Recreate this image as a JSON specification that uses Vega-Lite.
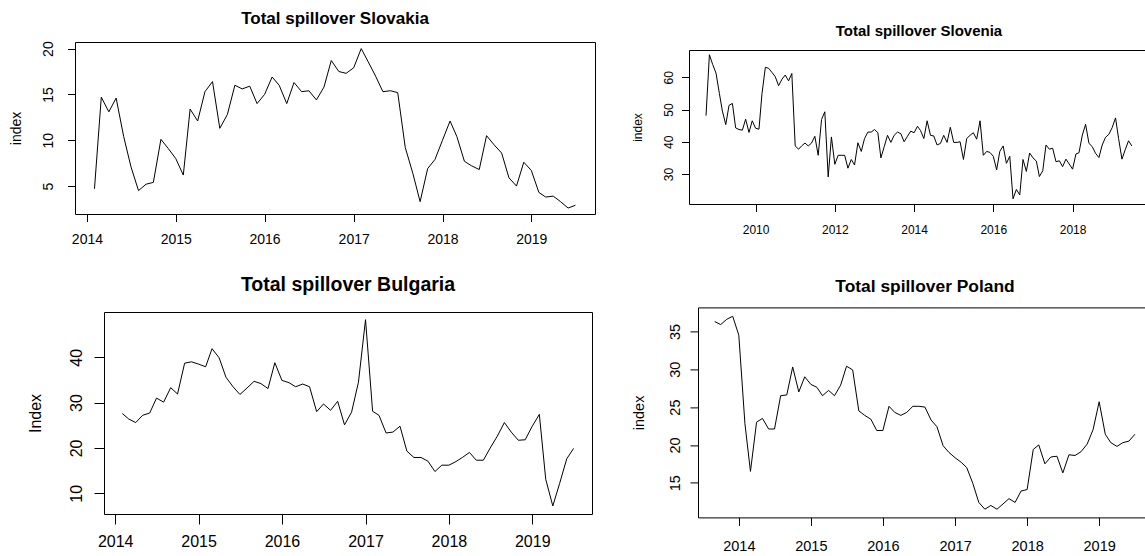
{
  "$schema": "https://vega.github.io/schema/vega-lite/v6.json",
  "autosize": {"type": "none"},
  "padding": {"left": 6, "top": 7, "right": 1139, "bottom": 549},
  "background": "white",
  "config": {
    "font": "Liberation Sans",
    "view": {"stroke": "black", "strokeWidth": 1},
    "axis": {"domain": false, "grid": false, "tickColor": "black", "tickWidth": 1, "labelColor": "black", "titleColor": "black", "titleFontWeight": "normal", "labelFlush": false, "labelOverlap": false},
    "title": {"fontWeight": "bold", "color": "black", "anchor": "middle", "frame": "group", "baseline": "alphabetic"},
    "line": {"color": "black", "strokeWidth": 1}
  },
  "datasets": {
    "slovakia": [
      {"date": "2014-02", "index": 4.7}, {"date": "2014-03", "index": 14.7}, {"date": "2014-04", "index": 13.1}, {"date": "2014-05", "index": 14.6},
      {"date": "2014-06", "index": 10.4}, {"date": "2014-07", "index": 7.1}, {"date": "2014-08", "index": 4.5}, {"date": "2014-09", "index": 5.2},
      {"date": "2014-10", "index": 5.4}, {"date": "2014-11", "index": 10.1}, {"date": "2014-12", "index": 9.1}, {"date": "2015-01", "index": 8.0},
      {"date": "2015-02", "index": 6.2}, {"date": "2015-03", "index": 13.4}, {"date": "2015-04", "index": 12.1}, {"date": "2015-05", "index": 15.3},
      {"date": "2015-06", "index": 16.4}, {"date": "2015-07", "index": 11.3}, {"date": "2015-08", "index": 12.8}, {"date": "2015-09", "index": 16.0},
      {"date": "2015-10", "index": 15.6}, {"date": "2015-11", "index": 15.9}, {"date": "2015-12", "index": 14.0}, {"date": "2016-01", "index": 15.0},
      {"date": "2016-02", "index": 16.9}, {"date": "2016-03", "index": 16.0}, {"date": "2016-04", "index": 14.0}, {"date": "2016-05", "index": 16.3},
      {"date": "2016-06", "index": 15.3}, {"date": "2016-07", "index": 15.4}, {"date": "2016-08", "index": 14.4}, {"date": "2016-09", "index": 15.8},
      {"date": "2016-10", "index": 18.7}, {"date": "2016-11", "index": 17.5}, {"date": "2016-12", "index": 17.3}, {"date": "2017-01", "index": 17.9},
      {"date": "2017-02", "index": 20.0}, {"date": "2017-03", "index": 18.6}, {"date": "2017-04", "index": 17.0}, {"date": "2017-05", "index": 15.3},
      {"date": "2017-06", "index": 15.4}, {"date": "2017-07", "index": 15.2}, {"date": "2017-08", "index": 9.2}, {"date": "2017-09", "index": 6.4},
      {"date": "2017-10", "index": 3.3}, {"date": "2017-11", "index": 6.9}, {"date": "2017-12", "index": 7.9}, {"date": "2018-01", "index": 10.0},
      {"date": "2018-02", "index": 12.1}, {"date": "2018-03", "index": 10.4}, {"date": "2018-04", "index": 7.7}, {"date": "2018-05", "index": 7.2},
      {"date": "2018-06", "index": 6.8}, {"date": "2018-07", "index": 10.5}, {"date": "2018-08", "index": 9.5}, {"date": "2018-09", "index": 8.6},
      {"date": "2018-10", "index": 5.9}, {"date": "2018-11", "index": 5.0}, {"date": "2018-12", "index": 7.6}, {"date": "2019-01", "index": 6.7},
      {"date": "2019-02", "index": 4.3}, {"date": "2019-03", "index": 3.8}, {"date": "2019-04", "index": 3.9}, {"date": "2019-05", "index": 3.3},
      {"date": "2019-06", "index": 2.6}, {"date": "2019-07", "index": 2.9}
    ],
    "slovenia": [
      {"date": "2008-10", "index": 48.1}, {"date": "2008-11", "index": 67.0}, {"date": "2008-12", "index": 64.0}, {"date": "2009-01", "index": 61.3},
      {"date": "2009-02", "index": 55.0}, {"date": "2009-03", "index": 49.5}, {"date": "2009-04", "index": 45.3}, {"date": "2009-05", "index": 51.3},
      {"date": "2009-06", "index": 51.9}, {"date": "2009-07", "index": 44.3}, {"date": "2009-08", "index": 43.8}, {"date": "2009-09", "index": 43.6},
      {"date": "2009-10", "index": 47.0}, {"date": "2009-11", "index": 42.9}, {"date": "2009-12", "index": 46.5}, {"date": "2010-01", "index": 44.2},
      {"date": "2010-02", "index": 43.9}, {"date": "2010-03", "index": 55.0}, {"date": "2010-04", "index": 63.1}, {"date": "2010-05", "index": 62.8},
      {"date": "2010-06", "index": 61.5}, {"date": "2010-07", "index": 60.2}, {"date": "2010-08", "index": 57.4}, {"date": "2010-09", "index": 59.4},
      {"date": "2010-10", "index": 60.7}, {"date": "2010-11", "index": 58.9}, {"date": "2010-12", "index": 61.2}, {"date": "2011-01", "index": 38.7},
      {"date": "2011-02", "index": 37.7}, {"date": "2011-03", "index": 38.7}, {"date": "2011-04", "index": 39.6}, {"date": "2011-05", "index": 38.7},
      {"date": "2011-06", "index": 39.6}, {"date": "2011-07", "index": 41.7}, {"date": "2011-08", "index": 35.8}, {"date": "2011-09", "index": 46.9},
      {"date": "2011-10", "index": 49.3}, {"date": "2011-11", "index": 29.1}, {"date": "2011-12", "index": 41.5}, {"date": "2012-01", "index": 33.0},
      {"date": "2012-02", "index": 35.8}, {"date": "2012-03", "index": 35.8}, {"date": "2012-04", "index": 35.8}, {"date": "2012-05", "index": 31.8},
      {"date": "2012-06", "index": 34.5}, {"date": "2012-07", "index": 32.8}, {"date": "2012-08", "index": 39.7}, {"date": "2012-09", "index": 37.0},
      {"date": "2012-10", "index": 41.0}, {"date": "2012-11", "index": 43.0}, {"date": "2012-12", "index": 43.0}, {"date": "2013-01", "index": 43.8},
      {"date": "2013-02", "index": 42.8}, {"date": "2013-03", "index": 35.0}, {"date": "2013-04", "index": 38.5}, {"date": "2013-05", "index": 42.0},
      {"date": "2013-06", "index": 39.8}, {"date": "2013-07", "index": 42.0}, {"date": "2013-08", "index": 43.0}, {"date": "2013-09", "index": 42.5},
      {"date": "2013-10", "index": 40.0}, {"date": "2013-11", "index": 41.7}, {"date": "2013-12", "index": 43.3}, {"date": "2014-01", "index": 42.8},
      {"date": "2014-02", "index": 44.8}, {"date": "2014-03", "index": 43.5}, {"date": "2014-04", "index": 41.0}, {"date": "2014-05", "index": 46.5},
      {"date": "2014-06", "index": 42.0}, {"date": "2014-07", "index": 41.8}, {"date": "2014-08", "index": 39.0}, {"date": "2014-09", "index": 39.5},
      {"date": "2014-10", "index": 42.0}, {"date": "2014-11", "index": 39.8}, {"date": "2014-12", "index": 44.5}, {"date": "2015-01", "index": 39.8},
      {"date": "2015-02", "index": 39.8}, {"date": "2015-03", "index": 40.0}, {"date": "2015-04", "index": 34.5}, {"date": "2015-05", "index": 41.0},
      {"date": "2015-06", "index": 42.0}, {"date": "2015-07", "index": 42.8}, {"date": "2015-08", "index": 40.8}, {"date": "2015-09", "index": 46.5},
      {"date": "2015-10", "index": 35.8}, {"date": "2015-11", "index": 37.0}, {"date": "2015-12", "index": 36.7}, {"date": "2016-01", "index": 35.5},
      {"date": "2016-02", "index": 31.3}, {"date": "2016-03", "index": 37.0}, {"date": "2016-04", "index": 38.7}, {"date": "2016-05", "index": 33.3},
      {"date": "2016-06", "index": 35.5}, {"date": "2016-07", "index": 22.3}, {"date": "2016-08", "index": 25.2}, {"date": "2016-09", "index": 23.5},
      {"date": "2016-10", "index": 34.5}, {"date": "2016-11", "index": 30.8}, {"date": "2016-12", "index": 36.5}, {"date": "2017-01", "index": 35.0},
      {"date": "2017-02", "index": 34.0}, {"date": "2017-03", "index": 29.2}, {"date": "2017-04", "index": 31.0}, {"date": "2017-05", "index": 39.0},
      {"date": "2017-06", "index": 37.7}, {"date": "2017-07", "index": 38.0}, {"date": "2017-08", "index": 33.8}, {"date": "2017-09", "index": 34.1},
      {"date": "2017-10", "index": 32.3}, {"date": "2017-11", "index": 34.6}, {"date": "2017-12", "index": 33.1}, {"date": "2018-01", "index": 31.5},
      {"date": "2018-02", "index": 36.2}, {"date": "2018-03", "index": 36.6}, {"date": "2018-04", "index": 42.1}, {"date": "2018-05", "index": 45.4},
      {"date": "2018-06", "index": 39.5}, {"date": "2018-07", "index": 38.5}, {"date": "2018-08", "index": 36.4}, {"date": "2018-09", "index": 35.1},
      {"date": "2018-10", "index": 39.0}, {"date": "2018-11", "index": 41.4}, {"date": "2018-12", "index": 42.3}, {"date": "2019-01", "index": 44.4},
      {"date": "2019-02", "index": 47.4}, {"date": "2019-03", "index": 41.0}, {"date": "2019-04", "index": 34.6}, {"date": "2019-05", "index": 37.5},
      {"date": "2019-06", "index": 40.3}, {"date": "2019-07", "index": 38.7}
    ],
    "bulgaria": [
      {"date": "2014-02", "index": 27.6}, {"date": "2014-03", "index": 26.4}, {"date": "2014-04", "index": 25.6}, {"date": "2014-05", "index": 27.2},
      {"date": "2014-06", "index": 27.7}, {"date": "2014-07", "index": 31.0}, {"date": "2014-08", "index": 30.1}, {"date": "2014-09", "index": 33.3},
      {"date": "2014-10", "index": 31.9}, {"date": "2014-11", "index": 38.7}, {"date": "2014-12", "index": 39.0}, {"date": "2015-01", "index": 38.5},
      {"date": "2015-02", "index": 37.9}, {"date": "2015-03", "index": 41.9}, {"date": "2015-04", "index": 39.9}, {"date": "2015-05", "index": 35.6},
      {"date": "2015-06", "index": 33.5}, {"date": "2015-07", "index": 31.8}, {"date": "2015-08", "index": 33.2}, {"date": "2015-09", "index": 34.7},
      {"date": "2015-10", "index": 34.2}, {"date": "2015-11", "index": 33.1}, {"date": "2015-12", "index": 38.8}, {"date": "2016-01", "index": 34.9},
      {"date": "2016-02", "index": 34.4}, {"date": "2016-03", "index": 33.5}, {"date": "2016-04", "index": 34.1}, {"date": "2016-05", "index": 33.5},
      {"date": "2016-06", "index": 28.0}, {"date": "2016-07", "index": 29.7}, {"date": "2016-08", "index": 28.3}, {"date": "2016-09", "index": 30.3},
      {"date": "2016-10", "index": 25.1}, {"date": "2016-11", "index": 27.9}, {"date": "2016-12", "index": 34.5}, {"date": "2017-01", "index": 48.3},
      {"date": "2017-02", "index": 28.1}, {"date": "2017-03", "index": 27.2}, {"date": "2017-04", "index": 23.3}, {"date": "2017-05", "index": 23.5},
      {"date": "2017-06", "index": 24.8}, {"date": "2017-07", "index": 19.3}, {"date": "2017-08", "index": 17.9}, {"date": "2017-09", "index": 17.9},
      {"date": "2017-10", "index": 17.1}, {"date": "2017-11", "index": 14.8}, {"date": "2017-12", "index": 16.2}, {"date": "2018-01", "index": 16.2},
      {"date": "2018-02", "index": 17.0}, {"date": "2018-03", "index": 17.9}, {"date": "2018-04", "index": 19.0}, {"date": "2018-05", "index": 17.3},
      {"date": "2018-06", "index": 17.3}, {"date": "2018-07", "index": 20.0}, {"date": "2018-08", "index": 22.6}, {"date": "2018-09", "index": 25.6},
      {"date": "2018-10", "index": 23.5}, {"date": "2018-11", "index": 21.7}, {"date": "2018-12", "index": 21.8}, {"date": "2019-01", "index": 24.8},
      {"date": "2019-02", "index": 27.4}, {"date": "2019-03", "index": 13.1}, {"date": "2019-04", "index": 7.2}, {"date": "2019-05", "index": 12.2},
      {"date": "2019-06", "index": 17.6}, {"date": "2019-07", "index": 19.9}
    ],
    "poland": [
      {"date": "2013-09", "index": 36.3}, {"date": "2013-10", "index": 35.9}, {"date": "2013-11", "index": 36.6}, {"date": "2013-12", "index": 37.0},
      {"date": "2014-01", "index": 34.5}, {"date": "2014-02", "index": 22.8}, {"date": "2014-03", "index": 16.5}, {"date": "2014-04", "index": 23.0},
      {"date": "2014-05", "index": 23.5}, {"date": "2014-06", "index": 22.1}, {"date": "2014-07", "index": 22.1}, {"date": "2014-08", "index": 26.5},
      {"date": "2014-09", "index": 26.6}, {"date": "2014-10", "index": 30.3}, {"date": "2014-11", "index": 27.0}, {"date": "2014-12", "index": 29.0},
      {"date": "2015-01", "index": 28.0}, {"date": "2015-02", "index": 27.6}, {"date": "2015-03", "index": 26.5}, {"date": "2015-04", "index": 27.2},
      {"date": "2015-05", "index": 26.5}, {"date": "2015-06", "index": 27.9}, {"date": "2015-07", "index": 30.4}, {"date": "2015-08", "index": 29.9},
      {"date": "2015-09", "index": 24.5}, {"date": "2015-10", "index": 23.9}, {"date": "2015-11", "index": 23.4}, {"date": "2015-12", "index": 21.9},
      {"date": "2016-01", "index": 21.9}, {"date": "2016-02", "index": 25.1}, {"date": "2016-03", "index": 24.3}, {"date": "2016-04", "index": 23.9},
      {"date": "2016-05", "index": 24.3}, {"date": "2016-06", "index": 25.1}, {"date": "2016-07", "index": 25.1}, {"date": "2016-08", "index": 25.0},
      {"date": "2016-09", "index": 23.3}, {"date": "2016-10", "index": 22.4}, {"date": "2016-11", "index": 19.9}, {"date": "2016-12", "index": 19.0},
      {"date": "2017-01", "index": 18.3}, {"date": "2017-02", "index": 17.7}, {"date": "2017-03", "index": 17.0}, {"date": "2017-04", "index": 14.9},
      {"date": "2017-05", "index": 12.4}, {"date": "2017-06", "index": 11.5}, {"date": "2017-07", "index": 12.0}, {"date": "2017-08", "index": 11.5},
      {"date": "2017-09", "index": 12.2}, {"date": "2017-10", "index": 12.9}, {"date": "2017-11", "index": 12.4}, {"date": "2017-12", "index": 13.9},
      {"date": "2018-01", "index": 14.1}, {"date": "2018-02", "index": 19.4}, {"date": "2018-03", "index": 20.0}, {"date": "2018-04", "index": 17.5},
      {"date": "2018-05", "index": 18.4}, {"date": "2018-06", "index": 18.5}, {"date": "2018-07", "index": 16.3}, {"date": "2018-08", "index": 18.7},
      {"date": "2018-09", "index": 18.6}, {"date": "2018-10", "index": 19.1}, {"date": "2018-11", "index": 20.1}, {"date": "2018-12", "index": 22.0},
      {"date": "2019-01", "index": 25.7}, {"date": "2019-02", "index": 21.4}, {"date": "2019-03", "index": 20.3}, {"date": "2019-04", "index": 19.8},
      {"date": "2019-05", "index": 20.3}, {"date": "2019-06", "index": 20.5}, {"date": "2019-07", "index": 21.4}
    ]
  },
  "hconcat": [
    {
      "spacing": 27,
      "vconcat": [
        {
          "spacing": 0,
          "vconcat": [
            {"width": 1, "height": 1, "data": {"values": []}, "mark": "point", "view": {"stroke": "transparent"}},
            {
              "spacing": 0,
              "hconcat": [
                {"width": 1, "height": 1, "data": {"values": []}, "mark": "point", "view": {"stroke": "transparent"}},
                {
                  "width": 520, "height": 172,
                  "data": {"name": "slovakia"},
                  "title": {"text": "Total spillover Slovakia", "fontSize": 17, "offset": 12.5},
                  "mark": {"type": "line", "color": "black", "strokeWidth": 1},
                  "encoding": {
                    "x": {"field": "date", "type": "temporal",
                      "scale": {"type": "utc", "domain": [{"year": 2013, "month": 11, "date": 13, "utc": true}, {"year": 2019, "month": 9, "date": 19, "hours": 14, "utc": true}]},
                      "axis": {"title": null, "format": "%Y", "values": [{"year": 2014, "utc": true}, {"year": 2015, "utc": true}, {"year": 2016, "utc": true}, {"year": 2017, "utc": true}, {"year": 2018, "utc": true}, {"year": 2019, "utc": true}],
                        "labelFontSize": 14, "tickSize": 7.5, "labelPadding": 21.5, "labelBaseline": "alphabetic", "labelAngle": 0}},
                    "y": {"field": "index", "type": "quantitative",
                      "scale": {"domain": [1.95, 20.72], "nice": false, "zero": false},
                      "axis": {"values": [5, 10, 15, 20], "title": "index", "titleFontSize": 14, "titleX": -59, "titleY": 86, "titleAngle": -90, "titleAlign": "center", "titleBaseline": "middle",
                        "labelFontSize": 14, "labelAngle": -90, "labelAlign": "center", "labelBaseline": "middle", "tickSize": 7.5, "labelPadding": 18.7}}
                  }
                }
              ]
            }
          ]
        },
        {
          "spacing": 0,
          "hconcat": [
            {"width": 19, "height": 1, "data": {"values": []}, "mark": "point", "view": {"stroke": "transparent"}},
            {
              "width": 488, "height": 202,
              "data": {"name": "bulgaria"},
              "title": {"text": "Total spillover Bulgaria", "fontSize": 19.5, "offset": 16.1},
              "mark": {"type": "line", "color": "black", "strokeWidth": 1},
              "encoding": {
                "x": {"field": "date", "type": "temporal",
                  "scale": {"type": "utc", "domain": [{"year": 2013, "month": 11, "date": 13, "utc": true}, {"year": 2019, "month": 9, "date": 19, "hours": 14, "utc": true}]},
                  "axis": {"title": null, "format": "%Y", "values": [{"year": 2014, "utc": true}, {"year": 2015, "utc": true}, {"year": 2016, "utc": true}, {"year": 2017, "utc": true}, {"year": 2018, "utc": true}, {"year": 2019, "utc": true}],
                    "labelFontSize": 16, "tickSize": 10, "labelPadding": 22.5, "labelBaseline": "alphabetic", "labelAngle": 0}},
                "y": {"field": "index", "type": "quantitative",
                  "scale": {"domain": [5.43, 49.99], "nice": false, "zero": false},
                  "axis": {"values": [10, 20, 30, 40], "title": "Index", "titleFontSize": 16, "titleX": -69, "titleY": 101, "titleAngle": -90, "titleAlign": "center", "titleBaseline": "middle",
                    "labelFontSize": 16, "labelAngle": -90, "labelAlign": "center", "labelBaseline": "middle", "tickSize": 10, "labelPadding": 18}}
              }
            }
          ]
        }
      ]
    },
    {
      "spacing": 41.4,
      "vconcat": [
        {
          "spacing": 0,
          "vconcat": [
            {"width": 1, "height": 15, "data": {"values": []}, "mark": "point", "view": {"stroke": "transparent"}},
            {
              "spacing": 0,
              "hconcat": [
                {"width": 1, "height": 1, "data": {"values": []}, "mark": "point", "view": {"stroke": "transparent"}},
                {
                  "width": 460, "height": 154,
                  "data": {"name": "slovenia"},
                  "title": {"text": "Total spillover Slovenia", "fontSize": 15, "offset": 11.5},
                  "mark": {"type": "line", "color": "black", "strokeWidth": 1},
                  "encoding": {
                    "x": {"field": "date", "type": "temporal",
                      "scale": {"type": "utc", "domain": [{"year": 2008, "month": 4, "date": 27, "utc": true}, {"year": 2019, "month": 12, "date": 6, "hours": 10, "utc": true}]},
                      "axis": {"title": null, "format": "%Y", "values": [{"year": 2010, "utc": true}, {"year": 2012, "utc": true}, {"year": 2014, "utc": true}, {"year": 2016, "utc": true}, {"year": 2018, "utc": true}],
                        "labelFontSize": 12, "tickSize": 7.5, "labelPadding": 22, "labelBaseline": "alphabetic", "labelAngle": 0}},
                    "y": {"field": "index", "type": "quantitative",
                      "scale": {"domain": [20.69, 68.47], "nice": false, "zero": false},
                      "axis": {"values": [30, 40, 50, 60], "title": "index", "titleFontSize": 12, "titleX": -52, "titleY": 77, "titleAngle": -90, "titleAlign": "center", "titleBaseline": "middle",
                        "labelFontSize": 12, "labelAngle": -90, "labelAlign": "center", "labelBaseline": "middle", "tickSize": 7.5, "labelPadding": 13}}
                  }
                }
              ]
            }
          ]
        },
        {
          "spacing": 0,
          "hconcat": [
            {"width": 1, "height": 1, "data": {"values": []}, "mark": "point", "view": {"stroke": "transparent"}},
            {
              "width": 454, "height": 210,
              "data": {"name": "poland"},
              "title": {"text": "Total spillover Poland", "fontSize": 17.4, "offset": 12.1},
              "mark": {"type": "line", "color": "black", "strokeWidth": 1},
              "encoding": {
                "x": {"field": "date", "type": "temporal",
                  "scale": {"type": "utc", "domain": [{"year": 2013, "month": 6, "date": 8, "hours": 5, "utc": true}, {"year": 2019, "month": 9, "date": 25, "hours": 17, "utc": true}]},
                  "axis": {"title": null, "format": "%Y", "values": [{"year": 2014, "utc": true}, {"year": 2015, "utc": true}, {"year": 2016, "utc": true}, {"year": 2017, "utc": true}, {"year": 2018, "utc": true}, {"year": 2019, "utc": true}],
                    "labelFontSize": 14.5, "tickSize": 8, "labelPadding": 24.7, "labelBaseline": "alphabetic", "labelAngle": 0}},
                "y": {"field": "index", "type": "quantitative",
                  "scale": {"domain": [10.42, 38.17], "nice": false, "zero": false},
                  "axis": {"values": [15, 20, 25, 30, 35], "title": "index", "titleFontSize": 14.5, "titleX": -59, "titleY": 105, "titleAngle": -90, "titleAlign": "center", "titleBaseline": "middle",
                    "labelFontSize": 14.5, "labelAngle": -90, "labelAlign": "center", "labelBaseline": "middle", "tickSize": 8, "labelPadding": 15}}
              }
            }
          ]
        }
      ]
    }
  ],
  "spacing": 31
}
